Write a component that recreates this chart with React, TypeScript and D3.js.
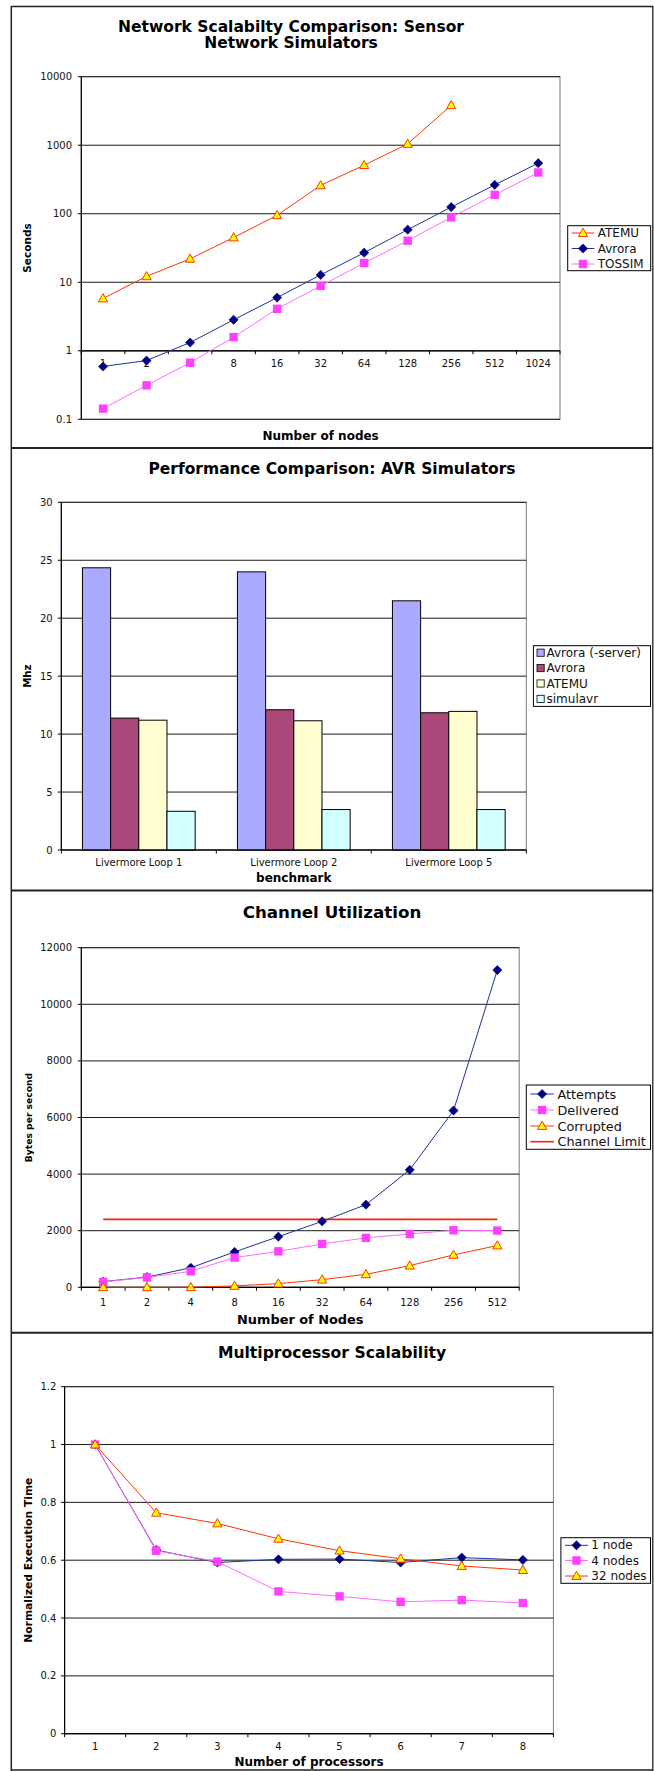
import React from "react";
import * as d3 from "d3";

// ---------- Data ----------
// Panel 1: Network scalability (log scale)
const nodes1 = ["1", "2", "4", "8", "16", "32", "64", "128", "256", "512", "1024"];
const atemu1 = [5.8, 12.2, 22, 45, 95, 259, 512, 1045, 3825];
const avrora1 = [0.59, 0.72, 1.32, 2.83, 5.98, 12.8, 27, 58.5, 125, 264, 547];
const tossim1 = [0.143, 0.313, 0.67, 1.58, 4.09, 8.85, 19.1, 40.4, 88.5, 189, 400];
const yTicks1 = [0.1, 1, 10, 100, 1000, 10000];

// Panel 2: AVR simulator performance
const benchmarks = ["Livermore Loop 1", "Livermore Loop 2", "Livermore Loop 5"];
const barSeriesNames = ["Avrora (-server)", "Avrora", "ATEMU", "simulavr"];
const avroraServer2 = [24.35, 24.0, 21.5];
const avrora2 = [11.38, 12.1, 11.84];
const atemu2 = [11.2, 11.15, 11.96];
const simulavr2 = [3.34, 3.49, 3.49];
const yTicks2 = [0, 5, 10, 15, 20, 25, 30];

// Panel 3: Channel utilization
const nodes3 = ["1", "2", "4", "8", "16", "32", "64", "128", "256", "512"];
const attempts3 = [200, 360, 690, 1250, 1790, 2330, 2920, 4150, 6245, 11210];
const delivered3 = [190, 350, 565, 1050, 1270, 1530, 1745, 1885, 2015, 2005];
const corrupted3 = [0, 0, 0, 50, 130, 270, 460, 765, 1145, 1475];
const channelLimit3 = 2400;
const yTicks3 = [0, 2000, 4000, 6000, 8000, 10000, 12000];

// Panel 4: Multiprocessor scalability
const procs4 = ["1", "2", "3", "4", "5", "6", "7", "8"];
const oneNode4 = [1, 0.635, 0.592, 0.603, 0.604, 0.592, 0.609, 0.601];
const fourNodes4 = [1, 0.633, 0.595, 0.492, 0.475, 0.456, 0.462, 0.452];
const thirtyTwoNodes4 = [1, 0.764, 0.727, 0.674, 0.633, 0.605, 0.58, 0.566];
const yTicks4 = [0, 0.2, 0.4, 0.6, 0.8, 1, 1.2];

// ---------- Styles ----------
const FONT = "Verdana, 'DejaVu Sans', sans-serif";
const NAVY = "#000080";
const NAVY_LINE = "#1d3596";
const MAG = "#ff40ff";
const MAG_LINE = "#ff6cff";
const RED = "#ff3300";
const YEL = "#ffff00";
const GRID = "#1a1a1a";
const BAR_COLORS = ["#aaaaff", "#a9497a", "#ffffd2", "#d2ffff"];

type Kind = "diamond" | "square" | "triangle";
const STYLE: Record<Kind, { line: string; fill: string; stroke: string }> = {
  diamond: { line: NAVY_LINE, fill: NAVY, stroke: NAVY },
  square: { line: MAG_LINE, fill: MAG, stroke: MAG },
  triangle: { line: RED, fill: YEL, stroke: RED },
};

function Marker({ kind, x, y }: { kind: Kind; x: number; y: number }) {
  const s = STYLE[kind];
  if (kind === "diamond") {
    const r = 4.6;
    return <path d={`M${x},${y - r}L${x + r},${y}L${x},${y + r}L${x - r},${y}Z`} fill={s.fill} stroke={s.stroke} strokeWidth={0.6} />;
  }
  if (kind === "square") {
    const r = 4.2;
    return <rect x={x - r} y={y - r} width={2 * r} height={2 * r} fill={s.fill} />;
  }
  return <path d={`M${x},${y - 4.8}L${x + 4.6},${y + 3.4}L${x - 4.6},${y + 3.4}Z`} fill={s.fill} stroke={s.stroke} strokeWidth={1} />;
}

type Series = { name: string; values: number[]; kind: Kind };

type LinePanelProps = {
  cats: string[];
  series: Series[];
  y: any;
  yTicks: number[];
  yFmt: (v: number) => string;
  left: number;
  right: number;
  top: number;
  bottom: number;
  axisValue: number;
  yLabelRight: number;
  xLabelY: number;
  title: string[];
  titleX: number;
  titleY: number;
  titleSize: number;
  titleGap: number;
  yTitle: string;
  yTitleX: number;
  yTitleSize: number;
  xTitle: string;
  xTitleY: number;
  xTitleSize: number;
  legend: { x0: number; x1: number; y0: number; y1: number; lx0: number; lx1: number; tx: number; ys: number[]; size: number };
  hline?: { value: number; name: string };
};

function LinePanel(p: LinePanelProps) {
  const x = d3.scaleBand<string>().domain(p.cats).range([p.left, p.right]).padding(0);
  const cx = (c: string) => (x(c) as number) + x.bandwidth() / 2;
  const axisY = p.y(p.axisValue);
  const line = d3
    .line<number>()
    .x((_, i) => cx(p.cats[i]))
    .y((v) => p.y(v));
  const midX = (p.left + p.right) / 2;
  const midY = (p.top + p.bottom) / 2;
  const boundaries = p.cats.map((c) => x(c) as number).concat([p.right]);
  const legendItems: { name: string; kind?: Kind; isLimit?: boolean }[] = p.series.map((s) => ({ name: s.name, kind: s.kind }));
  if (p.hline) legendItems.push({ name: p.hline.name, isLimit: true });
  return (
    <g fontFamily={FONT}>
      {p.title.map((t, i) => (
        <text key={i} x={p.titleX} y={p.titleY + i * p.titleGap} fontSize={p.titleSize} fontWeight="bold" textAnchor="middle" dominantBaseline="central">
          {t}
        </text>
      ))}
      <rect x={p.left} y={p.top} width={p.right - p.left} height={p.bottom - p.top} fill="#fff" stroke="#7a7a7a" strokeWidth={1} />
      {p.yTicks.map((t) => (
        <line key={"g" + t} x1={p.left} x2={p.right} y1={p.y(t)} y2={p.y(t)} stroke={GRID} strokeWidth={1} />
      ))}
      <line x1={p.left} x2={p.left} y1={p.top} y2={p.bottom} stroke="#000" strokeWidth={1.2} />
      {p.yTicks.map((t) => (
        <g key={"t" + t}>
          <line x1={p.left - 3.5} x2={p.left} y1={p.y(t)} y2={p.y(t)} stroke="#000" />
          <text x={p.yLabelRight} y={p.y(t)} fontSize={10} textAnchor="end" dominantBaseline="central" fill="#111">
            {p.yFmt(t)}
          </text>
        </g>
      ))}
      <line x1={p.left} x2={p.right} y1={axisY} y2={axisY} stroke="#000" strokeWidth={1.2} />
      {boundaries.map((b, i) => (
        <line key={"xt" + i} x1={b} x2={b} y1={axisY} y2={axisY + 3.5} stroke="#000" />
      ))}
      {p.cats.map((c) => (
        <text key={"xl" + c} x={cx(c)} y={p.xLabelY} fontSize={10} textAnchor="middle" dominantBaseline="central" fill="#111">
          {c}
        </text>
      ))}
      {p.hline && (
        <line x1={cx(p.cats[0])} x2={cx(p.cats[p.cats.length - 1])} y1={p.y(p.hline.value)} y2={p.y(p.hline.value)} stroke="#ff2200" strokeWidth={1.6} />
      )}
      {p.series.map((s) => (
        <g key={s.name}>
          <path d={line(s.values) as string} fill="none" stroke={STYLE[s.kind].line} strokeWidth={1} />
          {s.values.map((v, i) => (
            <Marker key={i} kind={s.kind} x={cx(p.cats[i])} y={p.y(v)} />
          ))}
        </g>
      ))}
      <text x={p.yTitleX} y={midY} fontSize={p.yTitleSize} fontWeight="bold" textAnchor="middle" dominantBaseline="central" transform={`rotate(-90 ${p.yTitleX} ${midY})`}>
        {p.yTitle}
      </text>
      <text x={midX} y={p.xTitleY} fontSize={p.xTitleSize} fontWeight="bold" textAnchor="middle" dominantBaseline="central">
        {p.xTitle}
      </text>
      <rect x={p.legend.x0} y={p.legend.y0} width={p.legend.x1 - p.legend.x0} height={p.legend.y1 - p.legend.y0} fill="#fff" stroke="#000" strokeWidth={1} />
      {legendItems.map((it, i) => {
        const yy = p.legend.ys[i];
        const mx = (p.legend.lx0 + p.legend.lx1) / 2;
        return (
          <g key={"lg" + i}>
            <line x1={p.legend.lx0} x2={p.legend.lx1} y1={yy} y2={yy} stroke={it.isLimit ? "#ff2200" : STYLE[it.kind as Kind].line} strokeWidth={it.isLimit ? 1.6 : 1} />
            {it.kind && <Marker kind={it.kind} x={mx} y={yy} />}
            <text x={p.legend.tx} y={yy} fontSize={p.legend.size} dominantBaseline="central" fill="#111">
              {it.name}
            </text>
          </g>
        );
      })}
    </g>
  );
}

function BarPanel() {
  const left = 61.3,
    right = 526.3,
    top = 502.3,
    bottom = 850;
  const y = d3.scaleLinear().domain([0, 30]).range([bottom, top]);
  const x = d3.scaleBand<string>().domain(benchmarks).range([left, right]).padding(0);
  const bw = x.bandwidth();
  const barW = bw / 5.5;
  const inner = d3
    .scaleBand<string>()
    .domain(barSeriesNames)
    .range([barW * 0.75, bw - barW * 0.75])
    .padding(0);
  const values = [avroraServer2, avrora2, atemu2, simulavr2];
  const midX = (left + right) / 2;
  const midY = (top + bottom) / 2;
  const legendYs = [652.7, 668.1, 683.5, 698.9];
  return (
    <g fontFamily={FONT}>
      <text x={332} y={469.3} fontSize={15.5} fontWeight="bold" textAnchor="middle" dominantBaseline="central">
        Performance Comparison: AVR Simulators
      </text>
      <rect x={left} y={top} width={right - left} height={bottom - top} fill="#fff" stroke="#7a7a7a" />
      {yTicks2.map((t) => (
        <g key={t}>
          <line x1={left} x2={right} y1={y(t)} y2={y(t)} stroke={GRID} />
          <line x1={left - 3.5} x2={left} y1={y(t)} y2={y(t)} stroke="#000" />
          <text x={52.7} y={y(t)} fontSize={10} textAnchor="end" dominantBaseline="central" fill="#111">
            {t}
          </text>
        </g>
      ))}
      <line x1={left} x2={left} y1={top} y2={bottom} stroke="#000" strokeWidth={1.2} />
      {values.map((vals, si) =>
        benchmarks.map((b, bi) => {
          const x0 = (x(b) as number) + (inner(barSeriesNames[si]) as number);
          return (
            <rect key={si + "-" + bi} x={x0} y={y(vals[bi])} width={inner.bandwidth()} height={bottom - y(vals[bi])} fill={BAR_COLORS[si]} stroke="#000" strokeWidth={1} />
          );
        })
      )}
      <line x1={left} x2={right} y1={bottom} y2={bottom} stroke="#000" strokeWidth={1.2} />
      {benchmarks.map((b) => (x(b) as number)).concat([right]).map((bx, i) => (
        <line key={"bt" + i} x1={bx} x2={bx} y1={bottom} y2={bottom + 3.5} stroke="#000" />
      ))}
      {benchmarks.map((b) => (
        <text key={b} x={(x(b) as number) + bw / 2} y={862} fontSize={10} textAnchor="middle" dominantBaseline="central" fill="#111">
          {b}
        </text>
      ))}
      <text x={28} y={midY} fontSize={10.2} fontWeight="bold" textAnchor="middle" dominantBaseline="central" transform={`rotate(-90 28 ${midY})`}>
        Mhz
      </text>
      <text x={midX} y={878.3} fontSize={12} fontWeight="bold" textAnchor="middle" dominantBaseline="central">
        benchmark
      </text>
      <rect x={533.4} y={645.7} width={117.1} height={60.7} fill="#fff" stroke="#000" />
      {barSeriesNames.map((n, i) => (
        <g key={n}>
          <rect x={537} y={legendYs[i] - 3.6} width={7.2} height={7.2} fill={BAR_COLORS[i]} stroke="#000" strokeWidth={0.8} />
          <text x={546.5} y={legendYs[i]} fontSize={12} dominantBaseline="central" fill="#111">
            {n}
          </text>
        </g>
      ))}
    </g>
  );
}

export default function App() {
  const y1 = d3.scaleLog().domain([0.1, 10000]).range([419.3, 76.7]);
  const y3 = d3.scaleLinear().domain([0, 12000]).range([1287.3, 947.7]);
  const y4 = d3.scaleLinear().domain([0, 1.2]).range([1733.7, 1386.7]);
  const fmtLog = (v: number) => (v < 1 ? String(v) : d3.format("d")(v));
  const fmtPlain = (v: number) => d3.format("d")(v);
  const fmt4 = (v: number) => String(+v.toFixed(1));

  return (
    <svg width={654} height={1771} style={{ position: "absolute", left: 0, top: 0, background: "#fff" }}>
      <rect x={0} y={0} width={654} height={1771} fill="#fff" />
      {/* frames */}
      <g stroke="#222" fill="none">
        <line x1={11} x2={653} y1={6.5} y2={6.5} strokeWidth={1.3} />
        <line x1={11.3} x2={11.3} y1={6} y2={1771} strokeWidth={1.5} />
        <line x1={652.8} x2={652.8} y1={6} y2={1771} strokeWidth={1.3} />
        <line x1={11} x2={653} y1={448} y2={448} strokeWidth={2} />
        <line x1={11} x2={653} y1={890.5} y2={890.5} strokeWidth={2} />
        <line x1={11} x2={653} y1={1332.7} y2={1332.7} strokeWidth={2} />
        <line x1={11} x2={653} y1={1770} y2={1770} strokeWidth={1.5} />
      </g>

      <LinePanel
        cats={nodes1}
        series={[
          { name: "ATEMU", values: atemu1, kind: "triangle" },
          { name: "Avrora", values: avrora1, kind: "diamond" },
          { name: "TOSSIM", values: tossim1, kind: "square" },
        ]}
        y={y1}
        yTicks={yTicks1}
        yFmt={fmtLog}
        left={81.3}
        right={560}
        top={76.7}
        bottom={419.3}
        axisValue={1}
        yLabelRight={72}
        xLabelY={363}
        title={["Network Scalabilty Comparison: Sensor", "Network Simulators"]}
        titleX={291}
        titleY={26.7}
        titleSize={15.5}
        titleGap={16.6}
        yTitle="Seconds"
        yTitleX={27}
        yTitleSize={10.5}
        xTitle="Number of nodes"
        xTitleY={436}
        xTitleSize={12}
        legend={{ x0: 567.7, x1: 650.7, y0: 225.7, y1: 270.7, lx0: 571.7, lx1: 594.3, tx: 597.7, ys: [233, 248.5, 264], size: 12 }}
      />

      <BarPanel />

      <LinePanel
        cats={nodes3}
        series={[
          { name: "Attempts", values: attempts3, kind: "diamond" },
          { name: "Delivered", values: delivered3, kind: "square" },
          { name: "Corrupted", values: corrupted3, kind: "triangle" },
        ]}
        hline={{ value: channelLimit3, name: "Channel Limit" }}
        y={y3}
        yTicks={yTicks3}
        yFmt={fmtPlain}
        left={81.3}
        right={519.2}
        top={947.7}
        bottom={1287.3}
        axisValue={0}
        yLabelRight={72}
        xLabelY={1302}
        title={["Channel Utilization"]}
        titleX={332}
        titleY={912.3}
        titleSize={16.7}
        titleGap={0}
        yTitle="Bytes per second"
        yTitleX={28.4}
        yTitleSize={9.2}
        xTitle="Number of Nodes"
        xTitleY={1319.3}
        xTitleSize={12.9}
        legend={{ x0: 526.3, x1: 650.5, y0: 1085, y1: 1149.3, lx0: 530.4, lx1: 553.8, tx: 557.5, ys: [1094, 1110, 1126, 1141.7], size: 12.8 }}
      />

      <LinePanel
        cats={procs4}
        series={[
          { name: "1 node", values: oneNode4, kind: "diamond" },
          { name: "4 nodes", values: fourNodes4, kind: "square" },
          { name: "32 nodes", values: thirtyTwoNodes4, kind: "triangle" },
        ]}
        y={y4}
        yTicks={yTicks4}
        yFmt={fmt4}
        left={64.6}
        right={553.4}
        top={1386.7}
        bottom={1733.7}
        axisValue={0}
        yLabelRight={56.3}
        xLabelY={1746.7}
        title={["Multiprocessor Scalability"]}
        titleX={332}
        titleY={1353.3}
        titleSize={15.6}
        titleGap={0}
        yTitle="Normalized Execution Time"
        yTitleX={28.4}
        yTitleSize={10.75}
        xTitle="Number of processors"
        xTitleY={1762.3}
        xTitleSize={12}
        legend={{ x0: 560.9, x1: 650.5, y0: 1537.7, y1: 1583.3, lx0: 565, lx1: 588, tx: 591.3, ys: [1545.3, 1560.5, 1576], size: 12 }}
      />
    </svg>
  );
}
